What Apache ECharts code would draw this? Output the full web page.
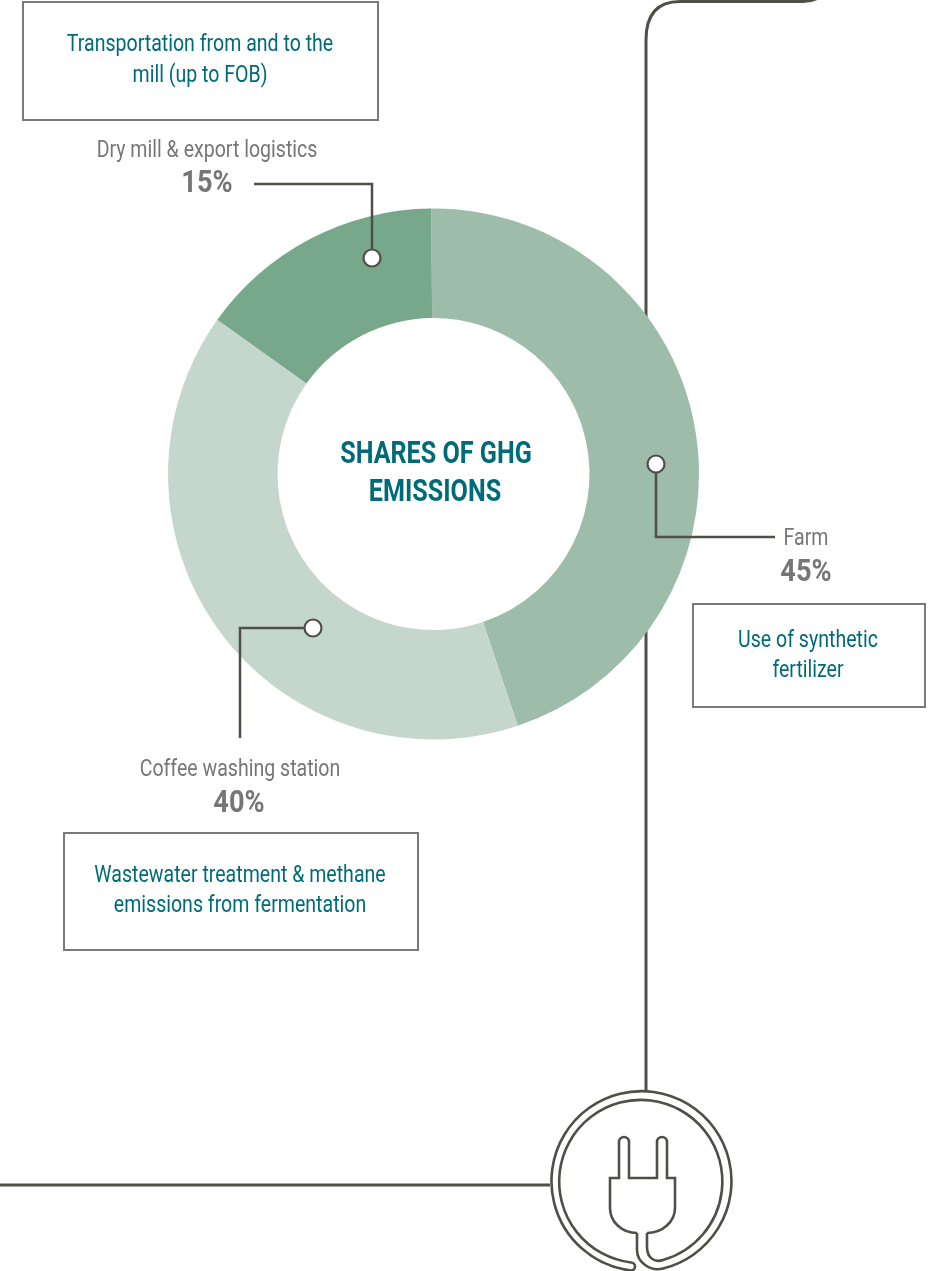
<!DOCTYPE html>
<html>
<head>
<meta charset="utf-8">
<style>
html,body{margin:0;padding:0;background:#fff}
#chart{width:936px;height:1271px}
</style>
<script src="https://cdn.jsdelivr.net/npm/echarts@6/dist/echarts.min.js"></script>
</head>
<body>
<div id="chart"></div>
<script>
// Emission shares per value-chain stage
const categories = ['Farm', 'Coffee washing station', 'Dry mill & export logistics'];
const shares = [45, 40, 15];
const sliceColors = ['#9DBDAA', '#C5D7CC', '#77A88B'];
const drivers = [
  ['Use of synthetic', 'fertilizer'],
  ['Wastewater treatment & methane', 'emissions from fermentation'],
  ['Transportation from and to the', 'mill (up to FOB)']
];
const centerTitle = ['SHARES OF GHG', 'EMISSIONS'];

const INK = '#4F4F47';
const GREY = '#767676';
const TEAL = '#006B78';
const FONT = 'Roboto,"Liberation Sans",sans-serif';

// Where each stage's labels, driver box and leader line sit
const stageLayout = [
  { nameAt: [806, 539], pctAt: [806, 573], box: [693, 604, 232, 103], lines: [[808, 641], [808, 671]],
    leader: 'M656 472 L656 537 L775 537', dot: [656, 464] },
  { nameAt: [240, 770], pctAt: [239, 804], box: [64, 833, 354, 117], lines: [[240, 876], [240, 906]],
    leader: 'M305 628 L240 628 L240 738', dot: [313, 628] },
  { nameAt: [207, 151], pctAt: [207, 184], box: [23, 2, 355, 118], lines: [[200, 45], [200, 76]],
    leader: 'M254 184 L372 184 L372 250', dot: [372, 258] }
];

function label(text, at, size, color, weight, sx) {
  return {
    type: 'text', x: at[0], y: at[1], scaleX: sx,
    style: { text, fill: color, font: `${weight} ${size}px ${FONT}`, align: 'center', verticalAlign: 'middle' }
  };
}
function stroke(pathData, width) {
  return {
    type: 'path', shape: { pathData },
    style: { fill: 'none', stroke: INK, lineWidth: width, lineJoin: 'miter', lineCap: 'butt' }
  };
}

// Cable and plug icon, passing behind the ring
const behind = [
  stroke('M822 -4 Q813 1.5 803 1.5 L680 1.5 Q646 1.5 646 40 L646 1091', 3),
  stroke('M0 1185 L550 1185', 3),
  stroke('M631 1262.5 A81.6 81.6 0 1 1 663 1260 C655 1263 647 1258 647 1247 L647 1233', 2.6),
  stroke('M637 1233 L637 1250 C637 1262 650 1272 663 1268.5 A90 90 0 1 0 631 1270.5 A4 4 0 0 0 631 1262.5', 2.6),
  stroke('M637 1233 C622 1233 610 1222 610 1208 L610 1178 L619 1178 L619 1142 A5 5 0 0 1 629 1142 L629 1178 L657 1178 L657 1142 A5 5 0 0 1 667 1142 L667 1178 L675 1178 L675 1208 C675 1222 662 1233 647 1233', 2.6)
];

// Boxes, labels, leader lines and dots above the ring
const BODY_SQUEEZE = 0.85;
const PCT_SQUEEZE = 0.85;
const TITLE_SQUEEZE = 0.785;
const front = [];
categories.forEach((name, i) => {
  const p = stageLayout[i];
  front.push({
    type: 'rect',
    shape: { x: p.box[0], y: p.box[1], width: p.box[2], height: p.box[3] },
    style: { fill: '#fff', stroke: '#7A7A7A', lineWidth: 2 }
  });
  drivers[i].forEach((t, j) => front.push(label(t, p.lines[j], 23, TEAL, 'normal', BODY_SQUEEZE)));
  front.push(label(name, p.nameAt, 23, GREY, 'normal', BODY_SQUEEZE));
  front.push(label(shares[i] + '%', p.pctAt, 32, GREY, 'bold', PCT_SQUEEZE));
  front.push(stroke(p.leader, 2.5));
  front.push({
    type: 'circle',
    shape: { cx: p.dot[0], cy: p.dot[1], r: 8.5 },
    style: { fill: '#fff', stroke: INK, lineWidth: 2.2 }
  });
});
front.push(label(centerTitle[0], [436, 455], 32, TEAL, 'bold', TITLE_SQUEEZE));
front.push(label(centerTitle[1], [435, 493], 32, TEAL, 'bold', TITLE_SQUEEZE));

function overlay(children, z) {
  return {
    type: 'custom', coordinateSystem: 'none', z, silent: true, clip: false,
    data: [0],
    renderItem: () => ({ type: 'group', children })
  };
}

const chart = echarts.init(document.getElementById('chart'), null, { renderer: 'canvas' });
chart.setOption({
  animation: false,
  backgroundColor: '#fff',
  series: [
    overlay(behind, 1),
    {
      type: 'pie',
      z: 10,
      center: [433.5, 474],
      radius: [156, 265.5],
      startAngle: 90.5,
      clockwise: true,
      silent: true,
      label: { show: false },
      labelLine: { show: false },
      itemStyle: { borderWidth: 0 },
      data: categories.map((name, i) => ({ name, value: shares[i], itemStyle: { color: sliceColors[i] } }))
    },
    overlay(front, 20)
  ]
});
</script>
</body>
</html>
